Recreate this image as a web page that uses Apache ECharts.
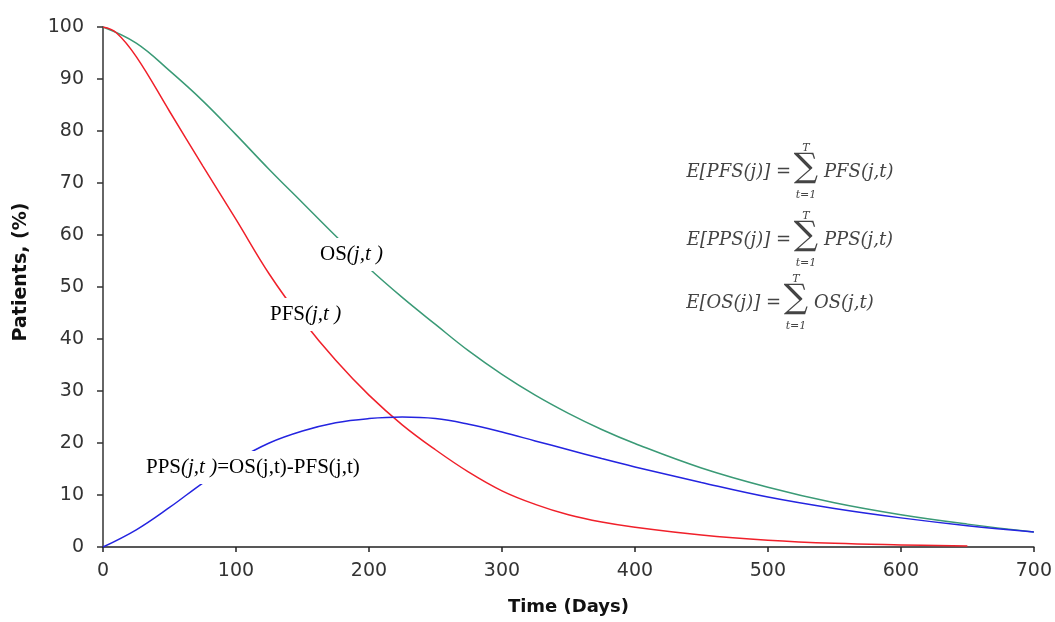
<!DOCTYPE html>
<html>
<head>
<meta charset="utf-8">
<script src="https://cdn.jsdelivr.net/npm/echarts@6/dist/echarts.min.js"></script>
<style>html,body{margin:0;padding:0;background:#fff}#c{width:1055px;height:622px}</style>
</head>
<body>
<div id="c"></div>
<script>
// Data
var osT   = [0, 25, 50, 75, 100, 125, 150, 175, 200, 225, 250, 275, 300, 325, 350, 375, 400, 450, 500, 550, 600, 650, 700];
var osV   = [100, 96.9, 91.6, 85.8, 79.3, 72.6, 66.2, 59.8, 53.6, 48, 42.8, 37.7, 33.2, 29.2, 25.7, 22.6, 19.9, 15.2, 11.5, 8.5, 6.2, 4.4, 2.9];
var pfsT  = [0, 10, 25, 50, 75, 100, 125, 150, 175, 200, 225, 250, 275, 300, 325, 350, 375, 400, 450, 500, 550, 600, 650];
var pfsV  = [100, 98.9, 94.3, 83.8, 73.3, 63, 52.5, 43.6, 35.9, 29.2, 23.5, 18.7, 14.4, 10.8, 8.2, 6.2, 4.8, 3.8, 2.3, 1.3, 0.7, 0.4, 0.2];
var ppsT  = [0, 25, 50, 75, 100, 125, 150, 175, 200, 225, 250, 275, 300, 325, 350, 375, 400, 450, 500, 550, 600, 650, 700];
var ppsV  = [0, 3.3, 7.6, 12.3, 16.6, 20, 22.3, 23.9, 24.7, 25, 24.7, 23.6, 22.1, 20.4, 18.7, 17, 15.4, 12.4, 9.6, 7.4, 5.6, 4.1, 2.9];
var xTicks = {min: 0, max: 700, step: 100};
var yTicks = {min: 0, max: 100, step: 10};

function pairs(t, v) { return t.map(function (x, i) { return [x, v[i]]; }); }

var chart = echarts.init(document.getElementById('c'));
var serif = '"Liberation Serif", "DejaVu Serif", serif';
var fserif = '"DejaVu Serif", "Liberation Serif", serif';
var sans = '"DejaVu Sans", Verdana, sans-serif';
var labelRich = {
  n: {fontFamily: serif, fontSize: 21, color: '#111'},
  i: {fontFamily: serif, fontSize: 21, fontStyle: 'italic', color: '#111'}
};
function formula(name, cy, sx) {
  var f = 'italic 18px ' + fserif;
  var c = '#444';
  return [
    {type: 'text', x: sx - 4, y: cy, style: {text: 'E[' + name + '(j)] =', font: f, fill: c, align: 'right', verticalAlign: 'middle'}},
    {type: 'text', x: sx + 11, y: cy - 24, style: {text: 'T', font: 'italic 11px ' + fserif, fill: c, align: 'center', verticalAlign: 'middle'}},
    {type: 'text', x: sx + 11, y: cy - 4, style: {text: '\u2211', font: '34px ' + fserif, fill: c, align: 'center', verticalAlign: 'middle'}},
    {type: 'text', x: sx + 11, y: cy + 23, style: {text: 't=1', font: 'italic 11px ' + fserif, fill: c, align: 'center', verticalAlign: 'middle'}},
    {type: 'text', x: sx + 29, y: cy, style: {text: name + '(j,t)', font: f, fill: c, verticalAlign: 'middle'}}
  ];
}

var graphics = [
  {type: 'text', left: 316, top: 238, z: 100,
   style: {rich: labelRich, text: '{n|OS}{i|(j,t )}', backgroundColor: '#fff', padding: [6, 4]}},
  {type: 'text', left: 266, top: 298, z: 100,
   style: {rich: labelRich, text: '{n|PFS}{i|(j,t )}', backgroundColor: '#fff', padding: [6, 4]}},
  {type: 'text', left: 142, top: 451, z: 100,
   style: {rich: labelRich, text: '{n|PPS}{i|(j,t )}{n|=OS(j,t)-PFS(j,t)}', backgroundColor: '#fff', padding: [6, 4]}}
].concat(formula('PFS', 172, 795), formula('PPS', 240, 795), formula('OS', 303, 785));

chart.setOption({
  animation: false,
  backgroundColor: '#fff',
  grid: {left: 103, right: 19, top: 27, bottom: 75},
  xAxis: {
    type: 'value', min: xTicks.min, max: xTicks.max, interval: xTicks.step,
    name: 'Time (Days)', nameLocation: 'middle', nameGap: 51,
    nameTextStyle: {fontFamily: sans, fontWeight: 'bold', fontSize: 18, color: '#111'},
    axisLine: {lineStyle: {color: '#222', width: 1.5}},
    axisTick: {show: true, length: 5, lineStyle: {color: '#222', width: 1.5}},
    axisLabel: {fontFamily: sans, fontSize: 19, color: '#333', margin: 15},
    splitLine: {show: false}
  },
  yAxis: {
    type: 'value', min: yTicks.min, max: yTicks.max, interval: yTicks.step,
    name: 'Patients, (%)', nameLocation: 'middle', nameGap: 72,
    nameTextStyle: {fontFamily: sans, fontWeight: 'bold', fontSize: 19, color: '#111', padding: [0, 0, 0, 30]},
    axisLine: {show: true, lineStyle: {color: '#333', width: 1.5}},
    axisTick: {show: true, length: 6, lineStyle: {color: '#333', width: 1.5}},
    axisLabel: {fontFamily: sans, fontSize: 19, color: '#333', margin: 19},
    splitLine: {show: false}
  },
  series: [
    {type: 'line', name: 'OS', data: pairs(osT, osV), smooth: 0.4, showSymbol: false,
     lineStyle: {color: '#3a9a76', width: 1.5}, itemStyle: {color: '#3a9a76'}},
    {type: 'line', name: 'PFS', data: pairs(pfsT, pfsV), smooth: 0.4, showSymbol: false,
     lineStyle: {color: '#f0202a', width: 1.5}, itemStyle: {color: '#f0202a'}},
    {type: 'line', name: 'PPS', data: pairs(ppsT, ppsV), smooth: 0.4, showSymbol: false,
     lineStyle: {color: '#2424e0', width: 1.5}, itemStyle: {color: '#2424e0'}}
  ],
  graphic: graphics
});
</script>
</body>
</html>
